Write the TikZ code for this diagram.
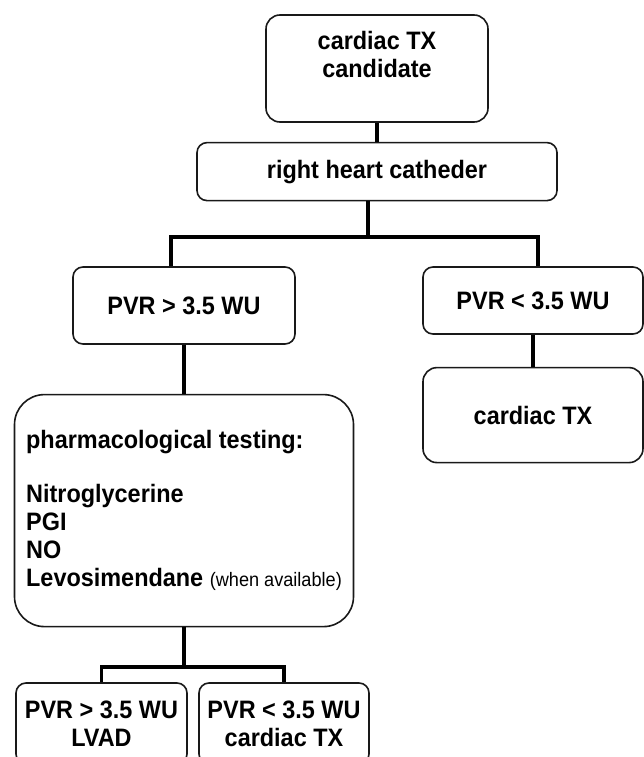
\documentclass[tikz,border=0pt]{standalone}
\usepackage{fontspec}
\setmainfont{Liberation Sans}[FakeStretch=0.93]
\usepackage{tikz}
\usetikzlibrary{positioning}

\begin{document}
\begin{tikzpicture}[x=1pt,y=-1pt,
    box/.style={draw=black!90,line width=1.6pt,rounded corners=10pt,inner sep=0pt,align=center,
      font=\fontsize{25.2}{28}\selectfont\bfseries},
    link/.style={line width=3.3pt}]
\useasboundingbox (0,0) rectangle (644,757);
    \node (Candidate) [box,rounded corners=14pt,minimum width=222pt,minimum height=107pt] at (377,68.5) {cardiac TX\\candidate\\\mbox{}};
    \node (Catheter) [box,minimum width=360pt,minimum height=58pt,below=19pt of Candidate] {right heart catheder};
    \node (PVRhigh) [box,minimum width=222pt,minimum height=77pt] at (184,305.5) {PVR > 3.5 WU};
    \node (PVRlow) [box,minimum width=220pt,minimum height=67pt] at (533,300.5) {PVR < 3.5 WU};
    \node (TX) [box,rounded corners=14pt,minimum width=220pt,minimum height=95pt,below=32pt of PVRlow] {cardiac TX};
    \node (Testing) [box,align=left,rounded corners=30pt,minimum width=339pt,minimum height=232pt,below=49pt of PVRhigh] {pharmacological testing:\\[26pt]Nitroglycerine\\PGI\\NO\\Levosimendane {\fontsize{19.5}{20}\selectfont\mdseries (when available)}};
    \node (LVAD) [box,minimum width=171pt,minimum height=81pt] at (101.5,723.5) {PVR > 3.5 WU\\LVAD};
    \node (TXlate) [box,minimum width=170pt,minimum height=81pt] at (284,723.5) {PVR < 3.5 WU\\cardiac TX};
    \coordinate (Fork) at (368,237);
    \coordinate (Split) at (184,667);
    \draw[link] (Catheter.north) -- (Catheter.north |- Candidate.south);
    \draw[link] (Fork |- Catheter.south) -- (Fork);
    \draw[link] ([xshift=-13pt]PVRhigh.north) |- (Fork) -| ([xshift=5pt]PVRlow.north);
    \draw[link] (PVRhigh) -- (Testing);
    \draw[link] (PVRlow) -- (TX);
    \draw[link] (Testing.south) -- (Split);
    \draw[link] (LVAD.north) |- (Split) -| (TXlate.north);
\end{tikzpicture}
\end{document}
